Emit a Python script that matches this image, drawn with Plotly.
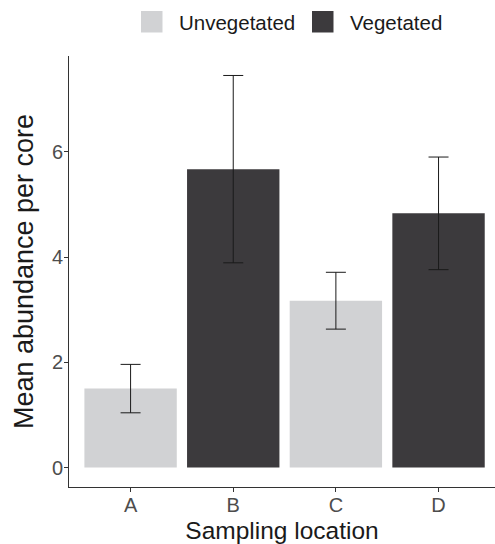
import plotly.graph_objects as go

# Mean abundance per core with standard errors, by sampling location
locations = ["A", "B", "C", "D"]
unveg_locations = ["A", "C"]
unveg_means = [1.50, 3.17]
unveg_errors = [0.46, 0.54]
veg_locations = ["B", "D"]
veg_means = [5.67, 4.83]
veg_errors = [1.78, 1.07]
legend_labels = ["Unvegetated", "Vegetated"]

UNVEG_COLOR = "#D1D2D4"
VEG_COLOR = "#3C3A3D"
FONT = "Liberation Sans, Arial, sans-serif"

W, H = 495, 544
M_L, M_R, M_T, M_B = 69, 0, 56, 57
PW, PH = W - M_L - M_R, H - M_T - M_B


def px_x(x):
    return (x - M_L) / PW


def px_y(y):
    return (H - M_B - y) / PH


fig = go.Figure()

err_style = dict(type="data", visible=True, color="#1a1a1a", thickness=1, width=10)

fig.add_trace(go.Bar(
    x=unveg_locations, y=unveg_means, name=legend_labels[0],
    marker=dict(color=UNVEG_COLOR, line=dict(width=0)), width=0.9,
    error_y=dict(array=unveg_errors, **err_style), showlegend=False,
))
fig.add_trace(go.Bar(
    x=veg_locations, y=veg_means, name=legend_labels[1],
    marker=dict(color=VEG_COLOR, line=dict(width=0)), width=0.9,
    error_y=dict(array=veg_errors, **err_style), showlegend=False,
))

# Top legend: large keys with labels beside them
key_left = [141, 312]
for label, color, kx in zip(legend_labels, [UNVEG_COLOR, VEG_COLOR], key_left):
    fig.add_shape(
        type="rect", xref="paper", yref="paper",
        x0=px_x(kx), x1=px_x(kx + 21.5), y0=px_y(32.5), y1=px_y(11),
        fillcolor=color, line=dict(width=0),
    )
    fig.add_annotation(
        xref="paper", yref="paper", x=px_x(kx + 36), y=px_y(22),
        xanchor="left", yanchor="middle", text=label, showarrow=False,
        font=dict(size=20.5, color="#1a1a1a", family=FONT),
    )

fig.update_layout(
    width=W, height=H,
    margin=dict(l=M_L, r=M_R, t=M_T, b=M_B),
    paper_bgcolor="white", plot_bgcolor="white",
    barmode="overlay", showlegend=False,
    font=dict(family=FONT, color="#1a1a1a"),
    xaxis=dict(
        type="category", categoryorder="array", categoryarray=locations,
        range=[-0.6, 3.55], showgrid=False, zeroline=False,
        showline=True, linecolor="#333333", linewidth=1,
        ticks="outside", ticklen=4, tickcolor="#333333", tickwidth=1,
        tickfont=dict(size=20, color="#4D4D4D"), ticklabelstandoff=-4,
        title=dict(text="Sampling location", font=dict(size=24.5, color="#1a1a1a"), standoff=6),
    ),
    yaxis=dict(
        range=[-0.37, 7.82], showgrid=False, zeroline=False,
        tickvals=[0, 2, 4, 6],
        showline=True, linecolor="#333333", linewidth=1,
        ticks="outside", ticklen=4, tickcolor="#333333", tickwidth=1,
        tickfont=dict(size=20, color="#4D4D4D"), ticklabelstandoff=-3,
        title=dict(text="Mean abundance per core", font=dict(size=27, color="#1a1a1a"), standoff=10),
    ),
)

fig.write_html("out.html")
